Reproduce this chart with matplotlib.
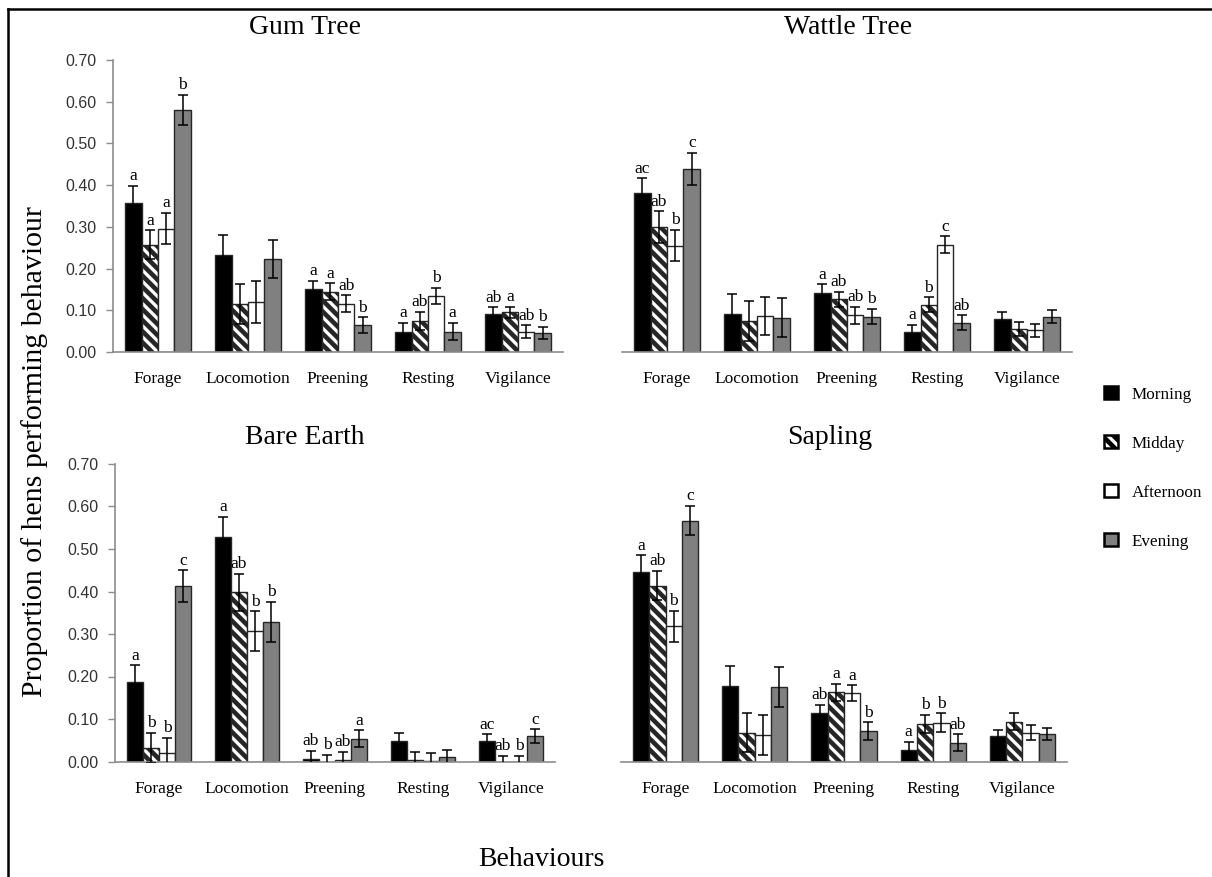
import matplotlib
matplotlib.use("Agg")
import matplotlib.pyplot as plt
import numpy as np
from matplotlib.patches import Patch
from matplotlib.lines import Line2D

behaviours = ["Forage", "Locomotion", "Preening", "Resting", "Vigilance"]
periods = ["Morning", "Midday", "Afternoon", "Evening"]

# Mean proportion per behaviour (rows) and time of day (columns)
gum_mean = [[0.358, 0.257, 0.296, 0.580],
            [0.233, 0.115, 0.120, 0.223],
            [0.150, 0.145, 0.116, 0.064],
            [0.049, 0.075, 0.134, 0.049],
            [0.092, 0.095, 0.049, 0.046]]
gum_err = [[0.040, 0.035, 0.038, 0.037],
           [0.048, 0.048, 0.050, 0.045],
           [0.020, 0.020, 0.020, 0.019],
           [0.021, 0.022, 0.020, 0.021],
           [0.015, 0.014, 0.015, 0.015]]
gum_sig = [["a", "a", "a", "b"],
           ["", "", "", ""],
           ["a", "a", "ab", "b"],
           ["a", "ab", "b", "a"],
           ["ab", "a", "ab", "b"]]

wattle_mean = [[0.380, 0.299, 0.255, 0.439],
               [0.091, 0.075, 0.087, 0.082],
               [0.142, 0.126, 0.088, 0.085],
               [0.047, 0.113, 0.257, 0.070],
               [0.080, 0.055, 0.052, 0.085]]
wattle_err = [[0.036, 0.038, 0.038, 0.039],
              [0.047, 0.048, 0.046, 0.047],
              [0.020, 0.019, 0.020, 0.018],
              [0.018, 0.018, 0.020, 0.018],
              [0.017, 0.017, 0.015, 0.015]]
wattle_sig = [["ac", "ab", "b", "c"],
              ["", "", "", ""],
              ["a", "ab", "ab", "b"],
              ["a", "b", "c", "ab"],
              ["", "", "", ""]]

bare_mean = [[0.188, 0.032, 0.021, 0.413],
             [0.528, 0.398, 0.306, 0.329],
             [0.005, 0.000, 0.003, 0.053],
             [0.048, 0.004, 0.001, 0.010],
             [0.048, 0.000, 0.000, 0.060]]
bare_err = [[0.038, 0.035, 0.034, 0.037],
            [0.047, 0.044, 0.047, 0.047],
            [0.020, 0.015, 0.020, 0.020],
            [0.020, 0.018, 0.019, 0.018],
            [0.016, 0.013, 0.013, 0.016]]
bare_sig = [["a", "b", "b", "c"],
            ["a", "ab", "b", "b"],
            ["ab", "b", "ab", "a"],
            ["", "", "", ""],
            ["ac", "ab", "b", "c"]]

sapling_mean = [[0.447, 0.414, 0.318, 0.567],
                [0.177, 0.068, 0.063, 0.175],
                [0.114, 0.163, 0.161, 0.071],
                [0.027, 0.088, 0.091, 0.044],
                [0.060, 0.094, 0.068, 0.065]]
sapling_err = [[0.038, 0.035, 0.036, 0.035],
               [0.047, 0.045, 0.047, 0.047],
               [0.020, 0.020, 0.018, 0.021],
               [0.020, 0.021, 0.022, 0.020],
               [0.015, 0.019, 0.017, 0.015]]
sapling_sig = [["a", "ab", "b", "c"],
               ["", "", "", ""],
               ["ab", "a", "a", "b"],
               ["a", "b", "b", "ab"],
               ["", "", "", ""]]

titles = ["Gum Tree", "Wattle Tree", "Bare Earth", "Sapling"]
y_ticks = [0.0, 0.1, 0.2, 0.3, 0.4, 0.5, 0.6, 0.7]

SERIF = "Liberation Serif"
SANS = "Liberation Sans"

plt.rcParams["hatch.linewidth"] = 3.3
plt.rcParams["hatch.color"] = "black"

fills = ["black", "white", "white", "#808080"]
hatches = [None, "\\\\\\", None, None]
edge = "#262626"
axis_grey = "#8c8c8c"

W, H = 1212, 877
fig = plt.figure(figsize=(W / 100, H / 100), dpi=100)

# axes rectangles in pixel units: left, right, top(0.70), bottom(0.00)
boxes = [(113, 563, 60, 352),
         (622, 1072, 60, 352),
         (115, 555, 464, 761.5),
         (621, 1067, 464, 761.5)]

panels = [(gum_mean, gum_err, gum_sig),
          (wattle_mean, wattle_err, wattle_sig),
          (bare_mean, bare_err, bare_sig),
          (sapling_mean, sapling_err, sapling_sig)]

bar_w = 0.183
x = np.arange(len(behaviours))

for idx, ((l, r, t, b), (mean, err, sig)) in enumerate(zip(boxes, panels)):
    ax = fig.add_axes([l / W, 1 - b / H, (r - l) / W, (b - t) / H])
    mean = np.array(mean)
    err = np.array(err)
    for j in range(len(periods)):
        xs = x + (j - 1.5) * bar_w
        ax.bar(xs, mean[:, j], width=bar_w, color=fills[j], edgecolor=edge,
               linewidth=1.0, hatch=hatches[j], zorder=2)
        ax.errorbar(xs, mean[:, j], yerr=err[:, j], fmt="none", ecolor="black",
                    elinewidth=1.1, capsize=3.4, capthick=1.1, zorder=3)
        for k in range(len(behaviours)):
            if sig[k][j]:
                ax.text(xs[k], mean[k, j] + err[k, j] + 0.004, sig[k][j],
                        ha="center", va="bottom", fontsize=12.5,
                        family=SERIF, zorder=4)
    ax.set_xlim(-0.5, len(behaviours) - 0.5)
    ax.set_ylim(0, 0.70)
    ax.set_xticks(x)
    ax.set_xticklabels(behaviours, family=SERIF, fontsize=12.5)
    ax.tick_params(axis="x", length=0, pad=14)
    for s in ["top", "right"]:
        ax.spines[s].set_visible(False)
    ax.spines["bottom"].set_color(axis_grey)
    ax.spines["bottom"].set_linewidth(1.2)
    if idx % 2 == 0:
        ax.spines["left"].set_color(axis_grey)
        ax.spines["left"].set_linewidth(1.2)
        ax.set_yticks(y_ticks)
        ax.set_yticklabels([f"{v:.2f}" for v in y_ticks], family=SANS,
                           fontsize=11.5, color="#333333")
        ax.tick_params(axis="y", length=5, width=1.0, color=axis_grey, pad=7)
    else:
        ax.spines["left"].set_visible(False)
        ax.set_yticks([])
    ax.patch.set_alpha(0)

# panel titles
title_pos = [(305, 28), (848, 28), (305, 437), (830, 437)]
for name, (tx, ty) in zip(titles, title_pos):
    fig.text(tx / W, 1 - ty / H, name, ha="center", va="center",
             family=SERIF, fontsize=20)

fig.text(35 / W, 1 - 452 / H, "Proportion of hens performing behaviour",
         rotation=90, ha="center", va="center", family=SERIF, fontsize=21.5)
fig.text(541 / W, 1 - 860 / H, "Behaviours", ha="center", va="center",
         family=SERIF, fontsize=20)

handles = [Patch(facecolor=fills[j], edgecolor="black", linewidth=1.8,
                 hatch=hatches[j]) for j in range(len(periods))]
leg = fig.legend(handles, periods, loc="center left",
                 bbox_to_anchor=(1104 / W, 1 - 468 / H), frameon=False,
                 prop={"family": SERIF, "size": 12.3},
                 handlelength=0.8, handleheight=0.8, handletextpad=0.8,
                 labelspacing=1.9, borderpad=0, borderaxespad=0)

# outer frame
fig.add_artist(Line2D([8 / W, 8 / W], [0, 1 - 9 / H], color="black",
                      linewidth=1.8, transform=fig.transFigure))
fig.add_artist(Line2D([8 / W, 1], [1 - 9 / H, 1 - 9 / H], color="black",
                      linewidth=1.8, transform=fig.transFigure))

fig.savefig("out.png", dpi=100)
